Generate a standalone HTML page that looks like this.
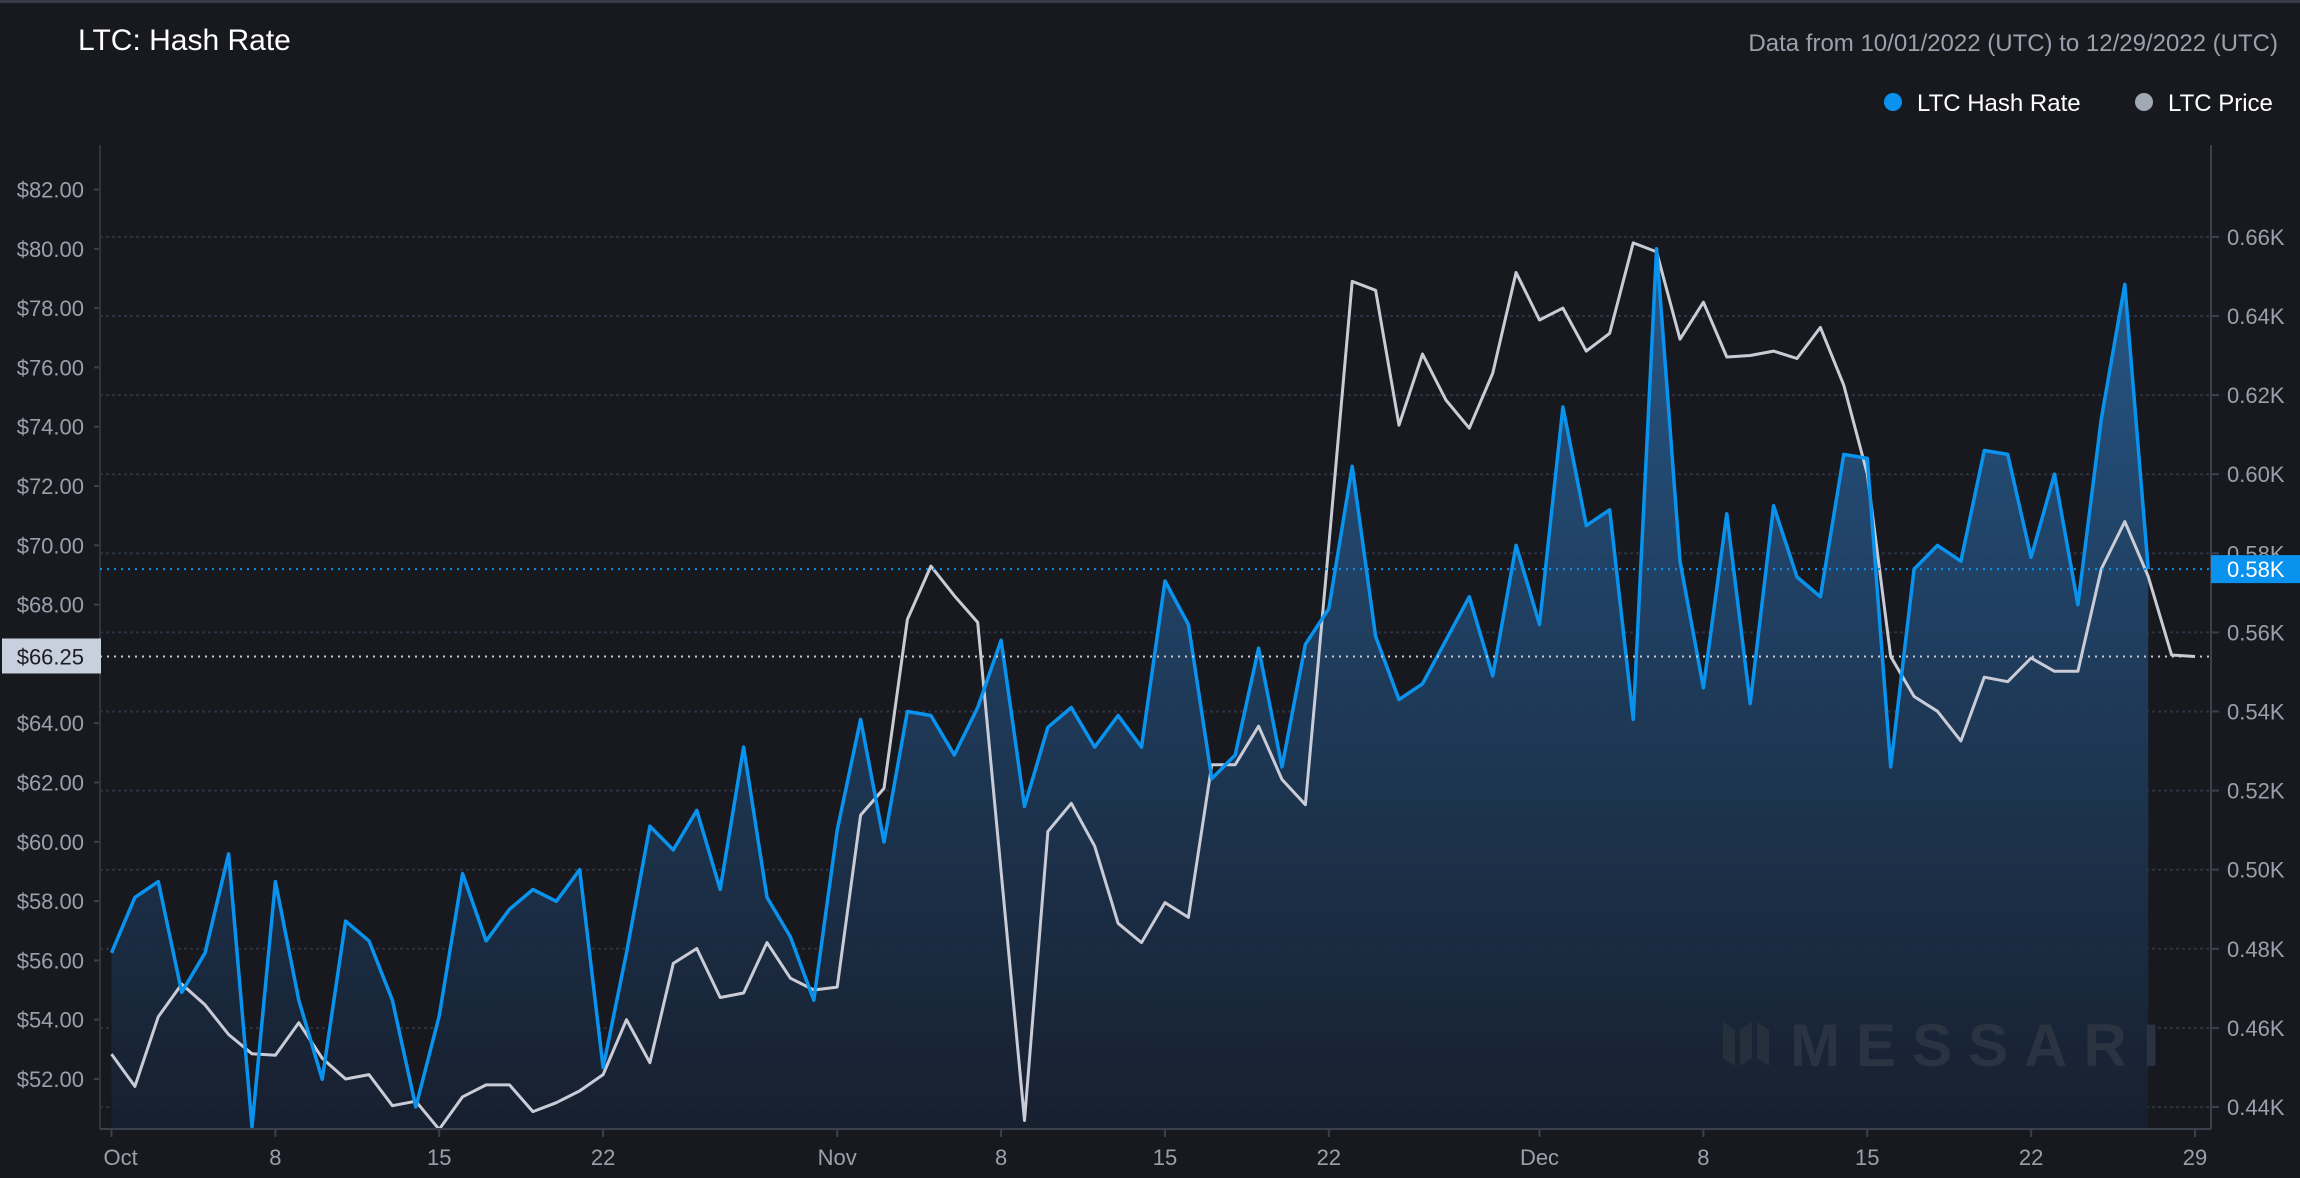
<!DOCTYPE html>
<html><head><meta charset="utf-8"><style>
html,body{margin:0;padding:0;background:#17191f;}
svg{display:block;font-family:"Liberation Sans",sans-serif;}
</style></head><body>
<svg id="chart" width="2300" height="1178" viewBox="0 0 2300 1178" xmlns="http://www.w3.org/2000/svg">
<defs>
<linearGradient id="fillGrad" x1="0" y1="0" x2="0" y2="1">
<stop offset="0" stop-color="#275a8c" stop-opacity="0.95"/>
<stop offset="1" stop-color="#172030" stop-opacity="0.9"/>
</linearGradient>
</defs>
<rect x="0" y="0" width="2300" height="1178" fill="#17191f"/>
<rect x="0" y="0" width="2300" height="3" fill="#363b46"/>
<text x="78" y="50" font-size="30" fill="#ffffff">LTC: Hash Rate</text>
<text x="2278" y="51" font-size="24" fill="#9aa0ac" text-anchor="end">Data from 10/01/2022 (UTC) to 12/29/2022 (UTC)</text>
<g>
<g><circle cx="1893" cy="102" r="9" fill="#0a93ee"/><text x="1917" y="111" font-size="24" fill="#ffffff">LTC Hash Rate</text></g>
<g><circle cx="2144" cy="102" r="9" fill="#a3a8b5"/><text x="2168" y="111" font-size="24" fill="#ffffff">LTC Price</text></g>
</g>
<g id="grid"></g>
<g id="series"></g>
<g id="axes"></g>
<text x="1790" y="1066" font-size="60" font-weight="bold" fill="#2a3342" letter-spacing="16">MESSARI</text>
<g><path d="M1723 1022 L1735 1030 L1735 1066 L1723 1058Z M1740 1030 L1752 1022 L1752 1058 L1740 1066Z M1757 1022 L1769 1030 L1769 1066 L1757 1058Z" fill="#26303d"/></g>
<g id="overlay"></g>
</svg>
<script>
const hashRate = [0.479,0.493,0.497,0.469,0.479,0.504,0.435,0.497,0.467,0.447,0.487,0.482,0.467,0.440,0.463,0.499,0.482,0.490,0.495,0.492,0.500,0.450,0.479,0.511,0.505,0.515,0.495,0.531,0.493,0.483,0.467,
0.510,0.538,0.507,0.540,0.539,0.529,0.541,0.558,0.516,0.536,0.541,0.531,0.539,0.531,0.573,0.562,0.523,0.529,0.556,0.526,0.557,0.566,0.602,0.559,0.543,0.547,0.558,0.569,0.549,0.582,
0.562,0.617,0.587,0.591,0.538,0.657,0.578,0.546,0.590,0.542,0.592,0.574,0.569,0.605,0.604,0.526,0.576,0.582,0.578,0.606,0.605,0.579,0.600,0.567,0.614,0.648,0.576];
const price = [52.84,51.75,54.1,55.2,54.5,53.5,52.85,52.8,53.9,52.7,52.0,52.15,51.1,51.25,50.3,51.4,51.8,51.8,50.9,51.2,51.6,52.15,54.0,52.55,55.9,56.4,54.75,54.9,56.6,55.4,55.0,
55.1,60.9,61.8,67.5,69.3,68.3,67.4,59.0,50.6,60.35,61.3,59.85,57.25,56.6,57.95,57.45,62.6,62.6,63.9,62.1,61.25,70.0,78.9,78.6,74.05,76.45,74.9,73.95,75.8,79.2,
77.6,78.0,76.55,77.15,80.2,79.9,76.95,78.2,76.35,76.4,76.55,76.3,77.35,75.4,72.4,66.25,64.9,64.4,63.4,65.55,65.4,66.2,65.75,65.75,69.2,70.8,68.95,66.3,66.25];
const leftTicks = [52,54,56,58,60,62,64,66,68,70,72,74,76,78,80,82];
const rightTicks = [0.44,0.46,0.48,0.50,0.52,0.54,0.56,0.58,0.60,0.62,0.64,0.66];
const xTickDays = [0,7,14,21,31,38,45,52,61,68,75,82,89];
const xTickLabels = ["Oct","8","15","22","Nov","8","15","22","Dec","8","15","22","29"];

const NS="http://www.w3.org/2000/svg";
const L=100,R=2211,T=145,B=1129;
const xS=d=>111.5+d*23.41;
const yL=v=>1079-(v-52)*29.65;
const yR=v=>1107-(v-0.44)/0.02*79.1;
function mk(tag,attrs,parent){const e=document.createElementNS(NS,tag);for(const k in attrs)e.setAttribute(k,attrs[k]);parent.appendChild(e);return e;}
const grid=document.getElementById('grid'),series=document.getElementById('series'),axes=document.getElementById('axes'),overlay=document.getElementById('overlay');

rightTicks.forEach(v=>{
  const y=yR(v);
  const g=mk('line',{x1:L,x2:R,y1:y,y2:y,stroke:'#2c3340','stroke-width':2,'stroke-dasharray':'3 3'},grid);
  
  
  const tk=mk('line',{x1:R,x2:R+8,y1:y,y2:y,stroke:'#3a404c','stroke-width':2},axes);
  
  
  const t=mk('text',{x:2227,y:y+8,'font-size':22,fill:'#9aa0ac'},axes);
  t.textContent=v.toFixed(2)+'K';
  
  
});
leftTicks.forEach(v=>{
  const y=yL(v);
  if(y<T+20) return;
  const tk=mk('line',{x1:L-6,x2:L,y1:y,y2:y,stroke:'#3a404c','stroke-width':2},axes);
  
  
  const t=mk('text',{x:84,y:y+8,'font-size':22,fill:'#9aa0ac','text-anchor':'end'},axes);
  t.textContent='$'+v.toFixed(2);
  
  
});
const la=mk('line',{x1:L,x2:L,y1:T,y2:B,stroke:'#2e3440','stroke-width':2},axes);


const ra=mk('line',{x1:R,x2:R,y1:T,y2:B,stroke:'#3a404c','stroke-width':2},axes);


const ba=mk('line',{x1:L,x2:R,y1:B,y2:B,stroke:'#3a404c','stroke-width':2},axes);


xTickDays.forEach((d,i)=>{
  const x=xS(d);
  const tk=mk('line',{x1:x,x2:x,y1:B,y2:B+8,stroke:'#3a404c','stroke-width':2},axes);
  
  
  const t=mk('text',{x:i==0?x-8:x,y:1165,'font-size':22,fill:'#9aa0ac','text-anchor':i==0?'start':'middle'},axes);
  t.textContent=xTickLabels[i];
  
  
});

let hp=hashRate.map((v,i)=>xS(i).toFixed(1)+','+yR(v).toFixed(1));
const area=mk('path',{d:'M'+xS(0)+','+B+' L'+hp.join(' L')+' L'+xS(hashRate.length-1)+','+B+' Z',fill:'url(#fillGrad)'},series);


const pl=mk('polyline',{points:price.map((v,i)=>xS(i).toFixed(1)+','+yL(v).toFixed(1)).join(' '),fill:'none',stroke:'#c9ccd6','stroke-width':3,'stroke-linejoin':'round'},series);


const hl=mk('polyline',{points:hp.join(' '),fill:'none',stroke:'#0a93ee','stroke-width':3.5,'stroke-linejoin':'round'},series);



const lastH=hashRate[hashRate.length-1], lastP=price[price.length-1];
const yh=yR(lastH), yp=yL(lastP);
const dh=mk('line',{x1:L,x2:R,y1:yh,y2:yh,stroke:'#0a93ee','stroke-width':2,'stroke-dasharray':'2 5'},overlay);


const dp=mk('line',{x1:L,x2:R,y1:yp,y2:yp,stroke:'#c9ccd6','stroke-width':2,'stroke-dasharray':'2 5'},overlay);


const hb=mk('rect',{x:2211,y:yh-14,width:89,height:28,fill:'#0a93ee'},overlay);


const ht=mk('text',{x:2227,y:yh+8,'font-size':22,fill:'#ffffff'},overlay);
ht.textContent=lastH.toFixed(2)+'K';


const pb=mk('rect',{x:2,y:yp-18,width:99,height:35,fill:'#c8cfdd'},overlay);


const pt=mk('text',{x:84,y:yp+8,'font-size':22,fill:'#1a1d24','text-anchor':'end'},overlay);
pt.textContent='$'+lastP.toFixed(2);


</script>
</body></html>
